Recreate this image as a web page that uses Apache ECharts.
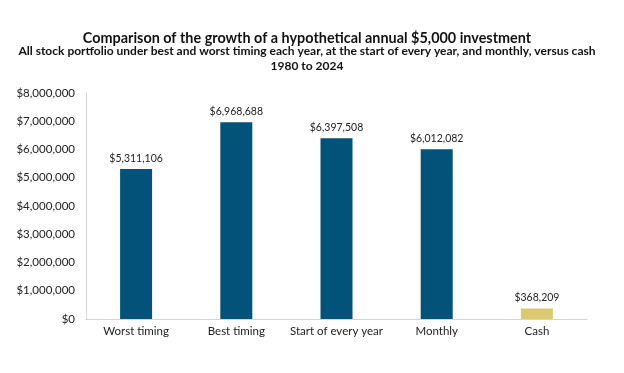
<!DOCTYPE html>
<html><head><meta charset="utf-8">
<script src="https://cdn.jsdelivr.net/npm/echarts@6/dist/echarts.min.js"></script>
<style>html,body{margin:0;padding:0;background:#fff}#c{width:624px;height:373px}</style>
</head><body><div id="c"></div>
<script>
const categories = ["Worst timing","Best timing","Start of every year","Monthly","Cash"];
const values = [5311106, 6968688, 6397508, 6012082, 368209];
const barColors = ["#03527A","#03527A","#03527A","#03527A","#DCC96F"];
const yTicks = [0,1000000,2000000,3000000,4000000,5000000,6000000,7000000,8000000];
const fmt = v => "$" + Math.round(v).toLocaleString("en-US");
const chart = echarts.init(document.getElementById('c'));
chart.setOption({
  animation:false,
  textStyle:{fontFamily:"Lato"},
  title:[
    {text:"Comparison of the growth of a hypothetical annual $5,000 investment", left:302, textAlign:"center", top:26,
     textStyle:{fontFamily:"Lato",fontSize:14.4,fontWeight:"bold",color:"#111"}},
    {text:"All stock portfolio under best and worst timing each year, at the start of every year, and monthly, versus cash\n1980 to 2024",
     left:302, textAlign:"center", top:39,
     textStyle:{fontFamily:"Lato",fontSize:12,fontWeight:"bold",color:"#111",lineHeight:14.5,align:"center"}}
  ],
  grid:{left:86,right:37,top:93,bottom:54,containLabel:false},
  xAxis:{type:"category",data:categories,
    axisLine:{lineStyle:{color:"#d4d4d4",width:1}},axisTick:{show:false},
    axisLabel:{color:"#222",fontSize:11.5,margin:6,interval:0}},
  yAxis:{type:"value",min:yTicks[0],max:yTicks[yTicks.length-1],interval:yTicks[1]-yTicks[0],
    axisLine:{show:true,lineStyle:{color:"#d4d4d4"}},splitLine:{show:false},axisTick:{show:false},
    axisLabel:{color:"#222",fontSize:11.5,margin:11,formatter:v=>fmt(v)}},
  series:[{type:"bar",barWidth:32,
    data:values.map((v,i)=>({value:v,itemStyle:{color:barColors[i]}})),
    label:{show:true,position:"top",color:"#222",fontSize:10.5,distance:5,formatter:p=>fmt(p.value)}}]
});
</script></body></html>
